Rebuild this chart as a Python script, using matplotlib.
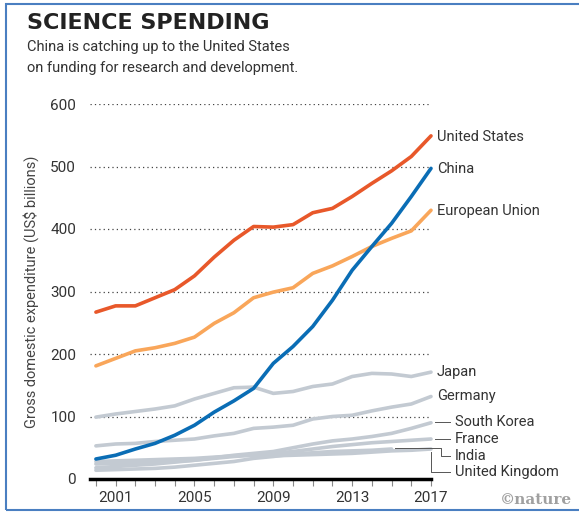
import matplotlib
matplotlib.use("Agg")
import matplotlib.pyplot as plt
from matplotlib.patches import Rectangle
from matplotlib.lines import Line2D

plt.rcParams['font.family'] = ['Roboto', 'DejaVu Sans']

years = list(range(2000, 2018))
us = [267, 277, 277, 290, 303, 325, 355, 382, 404, 403, 407, 426, 433, 452, 473, 493, 516, 549]
eu = [181, 193, 205, 210, 217, 227, 249, 266, 290, 299, 306, 329, 341, 356, 372, 385, 397, 430]
china = [32, 38, 48, 57, 70, 86, 107, 125, 145, 185, 212, 244, 286, 334, 372, 409, 452, 497]
japan = [99, 104, 108, 112, 117, 128, 137, 146, 147, 137, 140, 148, 152, 164, 169, 168, 164, 171]
germany = [53, 56, 57, 60, 62, 64, 69, 73, 81, 83, 86, 96, 100, 102, 109, 115, 120, 132]
south_korea = [18, 20, 22, 24, 27, 30, 34, 38, 41, 44, 50, 56, 61, 64, 68, 73, 81, 90]
france = [28, 29, 30, 31, 32, 33, 35, 37, 39, 41, 44, 48, 52, 55, 58, 60, 62, 64]
uk = [24, 25, 26, 27, 28, 30, 33, 36, 38, 37, 38, 39, 40, 41, 43, 45, 46, 48]
india_years = list(range(2000, 2016))
india = [14, 15, 16, 17, 19, 22, 25, 28, 33, 36, 40, 42, 44, 45, 46, 48]

W, H = 579, 517
fig = plt.figure(figsize=(W / 100, H / 100), dpi=100)

# blue frame
fig.add_artist(Rectangle((6 / W, 7 / H), 1.2, 1 - 11 / H, transform=fig.transFigure,
                         fill=False, edgecolor='#4a7fc1', linewidth=1.5))

fig.text(27 / W, 1 - 23 / H, "SCIENCE SPENDING", fontsize=16, fontweight='bold',
         family=['Liberation Sans Narrow', 'DejaVu Sans'], color='#222222', va='center')
fig.text(27 / W, 1 - 47 / H, "China is catching up to the United States", fontsize=10.5,
         color='#333333', va='center')
fig.text(27 / W, 1 - 68 / H, "on funding for research and development.", fontsize=10.5,
         color='#333333', va='center')

ax = fig.add_axes([90 / W, (H - 479) / H, 341 / W, 375 / H])
ax.set_xlim(1999.7, 2017)
ax.set_ylim(0, 600)

grey = '#c3cad2'
lw = 2.6
for vals in [uk, france, south_korea, germany, japan]:
    ax.plot(years, vals, color=grey, lw=lw, solid_capstyle='round', clip_on=False)
ax.plot(india_years, india, color=grey, lw=lw, solid_capstyle='round', clip_on=False)
ax.plot(years, eu, color='#f9a65a', lw=lw, solid_capstyle='round', clip_on=False)
ax.plot(years, us, color='#e8582a', lw=lw, solid_capstyle='round', clip_on=False)
ax.plot(years, china, color='#0a6db5', lw=lw, solid_capstyle='round', clip_on=False)

for s in ax.spines.values():
    s.set_visible(False)
ax.axhline(0, color='black', lw=2.5, clip_on=False, zorder=5)
for v in range(100, 601, 100):
    ax.axhline(v, color='#444444', lw=0.9, ls=(0, (1, 2.5)), zorder=0)

ax.set_yticks(range(0, 601, 100))
ax.tick_params(axis='y', length=0, labelsize=11, labelcolor='#333333', pad=10)
ax.set_xticks([2001, 2005, 2009, 2013, 2017])
ax.set_xticks(years, minor=True)
ax.tick_params(axis='x', which='both', direction='out', length=5, width=0.8,
               color='#888888', labelsize=11, labelcolor='#333333', pad=4)
ax.set_ylabel("Gross domestic expenditure (US$ billions)", fontsize=10.5,
              color='#444444', labelpad=8)

lab = dict(fontsize=10.5, color='#333333', va='center', transform=fig.transFigure)
for name, y in [("United States", 137), ("China", 169), ("European Union", 211),
                ("Japan", 372), ("Germany", 396)]:
    fig.text(437 / W, 1 - y / H, name, **lab)
for name, y in [("South Korea", 422), ("France", 439), ("India", 456), ("United Kingdom", 472)]:
    fig.text(455 / W, 1 - y / H, name, **lab)

def seg(xs, ys):
    fig.add_artist(Line2D([x / W for x in xs], [1 - y / H for y in ys],
                          transform=fig.transFigure, color='#555555', lw=0.7))

seg([435, 450], [422, 422])
seg([435, 450], [439, 439])
seg([395, 441, 441, 450], [448, 448, 456, 456])
seg([431, 431, 450], [452, 472, 472])

fig.text(572 / W, 1 - 500 / H, "\u00a9nature", fontsize=11, fontweight='bold',
         family=['DejaVu Serif'], color='#a0a0a0', ha='right', va='center')

fig.savefig("out.png", dpi=100)
